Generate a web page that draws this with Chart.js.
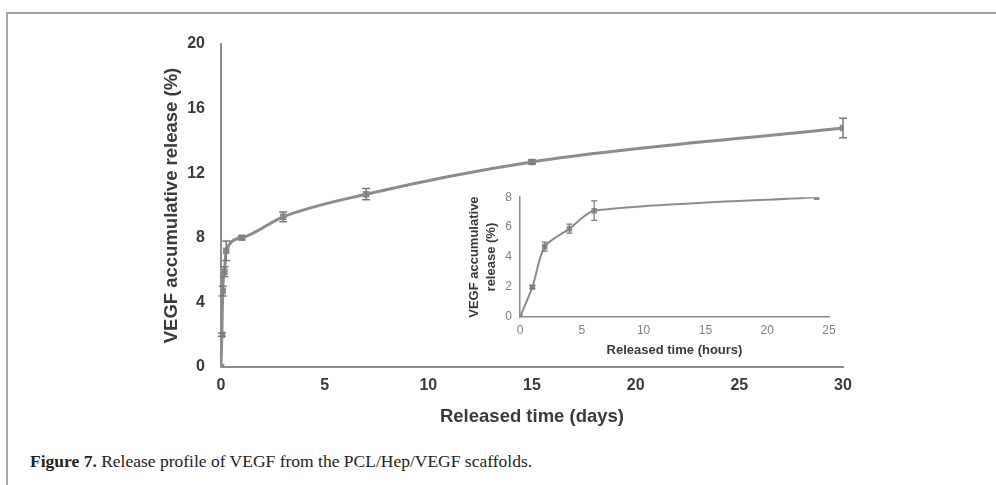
<!DOCTYPE html>
<html>
<head>
<meta charset="utf-8">
<script src="https://cdn.jsdelivr.net/npm/chart.js@4"></script>
<style>
  html, body { margin: 0; padding: 0; background: #fff; }
  body { width: 996px; height: 485px; position: relative; overflow: hidden; }
  #frame { position: absolute; left: 6px; top: 12px; width: 992px; height: 480px;
           border-top: 2px solid #a0a0a0; border-left: 2px solid #a8a8a8; }
  #main { position: absolute; left: 0; top: 0; }
  #inset { position: absolute; left: 440px; top: 185px; }
  #caption { position: absolute; left: 30px; top: 451px; font-family: "Liberation Serif", serif;
             font-size: 17.5px; color: #222; white-space: nowrap; }
</style>
</head>
<body>
<div id="frame"></div>
<canvas id="main" width="996" height="440"></canvas>
<canvas id="inset" width="400" height="180"></canvas>
<div id="caption"><b>Figure 7.</b> Release profile of VEGF from the PCL/Hep/VEGF scaffolds.</div>
<script>
// main curve, time in days
var days = [0, 0.042, 0.083, 0.167, 0.25, 1, 3, 7, 15, 30];
var release = [0, 2.0, 4.7, 5.9, 7.2, 8.0, 9.3, 10.7, 12.7, 14.8];
var releaseErr = [0, 0.1, 0.3, 0.3, 0.6, 0.1, 0.3, 0.35, 0.12, 0.6];

// inset, first day in hours
var hours = [0, 1, 2, 4, 6, 24];
var releaseH = [0, 2.0, 4.7, 5.9, 7.1, 8.0];
var releaseHErr = [0, 0.1, 0.3, 0.3, 0.65, 0];

var lineGrey = '#8c8c8c';
var textGrey = '#3a3a3a';

function pts(xs, ys) {
  return xs.map(function (x, i) { return { x: x, y: ys[i] }; });
}

// simple error bars, drawn through the chart scales
var errorBars = {
  id: 'errorBars',
  afterDatasetsDraw: function (chart, args, opts) {
    var ctx = chart.ctx;
    var xs = chart.scales.x, ys = chart.scales.y;
    chart.data.datasets.forEach(function (ds) {
      if (!ds.errors) return;
      ctx.save();
      ctx.strokeStyle = opts.color;
      ctx.lineWidth = opts.width;
      ds.data.forEach(function (p, i) {
        var e = ds.errors[i];
        if (!e) return;
        var px = xs.getPixelForValue(p.x);
        var top = ys.getPixelForValue(p.y + e);
        var bot = ys.getPixelForValue(p.y - e);
        ctx.beginPath();
        ctx.moveTo(px, top); ctx.lineTo(px, bot);
        ctx.moveTo(px - opts.cap, top); ctx.lineTo(px + opts.cap, top);
        ctx.moveTo(px - opts.cap, bot); ctx.lineTo(px + opts.cap, bot);
        ctx.stroke();
      });
      ctx.restore();
    });
  }
};

Chart.defaults.font.family = '"Liberation Sans", Arial, sans-serif';
Chart.defaults.animation = false;

new Chart(document.getElementById('main'), {
  type: 'scatter',
  data: {
    datasets: [{
      data: pts(days, release),
      errors: releaseErr,
      showLine: true,
      borderColor: lineGrey,
      backgroundColor: lineGrey,
      borderWidth: 3,
      cubicInterpolationMode: 'monotone',
      pointStyle: 'rect',
      pointRadius: 2.5
    }]
  },
  options: {
    responsive: false,
    layout: { padding: { left: 150, top: 44, right: 153, bottom: 0 } },
    plugins: {
      legend: { display: false },
      tooltip: { enabled: false },
      errorBars: { color: '#7a7a7a', width: 1.5, cap: 4 }
    },
    scales: {
      x: {
        type: 'linear', min: 0, max: 30,
        border: { color: lineGrey, width: 2 },
        grid: { display: false, drawTicks: true, tickLength: 5, tickColor: lineGrey },
        ticks: { stepSize: 5, color: textGrey, padding: 4, font: { size: 16, weight: 'bold' } },
        title: { display: true, text: 'Released time (days)', color: textGrey,
                 font: { size: 18.5, weight: 'bold' }, padding: { top: 0, bottom: 12 } },
        afterFit: function (s) { s.height = 73; }
      },
      y: {
        min: 0, max: 20,
        border: { color: lineGrey, width: 2 },
        grid: { display: false, drawTicks: true, tickLength: 5, tickColor: lineGrey },
        ticks: { stepSize: 4, color: textGrey, padding: 11, font: { size: 16, weight: 'bold' } },
        title: { display: true, text: 'VEGF accumulative release (%)', color: textGrey,
                 font: { size: 18.5, weight: 'bold' }, padding: { top: 11, bottom: 0 } },
        afterFit: function (s) { s.width = 71; }
      }
    }
  },
  plugins: [errorBars]
});

new Chart(document.getElementById('inset'), {
  type: 'scatter',
  data: {
    datasets: [{
      data: pts(hours, releaseH),
      errors: releaseHErr,
      showLine: true,
      borderColor: lineGrey,
      backgroundColor: lineGrey,
      borderWidth: 2,
      tension: 0.25,
      pointStyle: 'rect',
      pointRadius: 2.5
    }]
  },
  options: {
    responsive: false,
    layout: { padding: { left: 22, top: 12, right: 11, bottom: 0 } },
    plugins: {
      legend: { display: false },
      tooltip: { enabled: false },
      errorBars: { color: '#7a7a7a', width: 1.2, cap: 3 }
    },
    scales: {
      x: {
        type: 'linear', min: 0, max: 25,
        border: { color: lineGrey, width: 1.5 },
        grid: { display: false, drawTicks: true, tickLength: 3, tickColor: lineGrey },
        ticks: { stepSize: 5, color: '#808080', padding: 3, font: { size: 12 } },
        title: { display: true, text: 'Released time (hours)', color: textGrey,
                 font: { size: 13, weight: 'bold' }, padding: { top: 0, bottom: 7 } },
        afterFit: function (s) { s.height = 48; }
      },
      y: {
        min: 0, max: 8,
        border: { color: lineGrey, width: 1.5 },
        grid: { display: false, drawTicks: true, tickLength: 3, tickColor: lineGrey },
        ticks: { stepSize: 2, color: '#808080', padding: 5, font: { size: 12 } },
        title: { display: true, text: ['VEGF accumulative', 'release (%)'], color: textGrey,
                 font: { size: 13, weight: 'bold', lineHeight: 1.3 }, padding: { top: 4, bottom: 0 } },
        afterFit: function (s) { s.width = 58; }
      }
    }
  },
  plugins: [errorBars]
});
</script>
</body>
</html>
